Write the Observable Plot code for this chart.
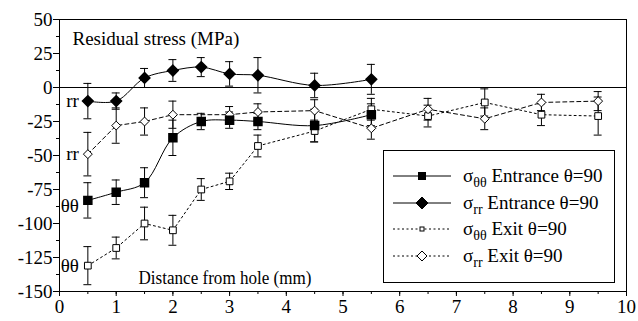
<!DOCTYPE html>
<html><head><meta charset="utf-8">
<script src="https://cdn.jsdelivr.net/npm/d3@7"></script>
<script src="https://cdn.jsdelivr.net/npm/@observablehq/plot@0.6"></script>
</head>
<body style="margin:0;background:#fff">
<div id="wrap" style="position:relative;width:638px;height:321px;font-family:'Liberation Serif'"></div>
<script>
const xEntr = [0.5, 1, 1.5, 2, 2.5, 3, 3.5, 4.5, 5.5];
const sttEntr = [-83, -77, -70, -37, -25, -24, -25, -28, -20];
const sttEntrErr = [13, 9, 11, 13, 6, 6, 6, 12, 8];
const srrEntr = [-10, -10, 7, 12.5, 15, 10, 9, 1.5, 6];
const srrEntrErr = [13, 6, 7, 8, 7, 9, 13, 9, 11];
const xSttExit = [0.5, 1, 1.5, 2, 2.5, 3, 3.5, 4.5, 5.5, 6.5, 7.5, 8.5, 9.5];
const sttExit = [-131, -118, -100, -105, -75, -69, -43, -32, -16, -21, -11, -20, -21];
const sttExitErr = [14, 8, 12, 11, 8, 6, 8, 8, 8, 8, 10, 8, 14];
const xSrrExit = [0.5, 1, 1.5, 2, 3, 3.5, 4.5, 5.5, 6.5, 7.5, 8.5, 9.5];
const srrExit = [-49, -28, -25, -20, -20, -18, -17, -30, -16, -23, -11, -10];
const srrExitErr = [16, 13, 10, 10, 6, 6, 8, 8, 8, 8, 6, 7];
const xTicks = [0,1,2,3,4,5,6,7,8,9,10];
const yTicks = [-150,-125,-100,-75,-50,-25,0,25,50];
const labels = [
  {x: 0.5, y: -10, t: "rr"}, {x: 0.5, y: -49, t: "rr"},
  {x: 0.5, y: -87, t: "θθ"}, {x: 0.5, y: -131, t: "θθ"}
];

const FONT = "'Liberation Serif'";
const mk = (xs, ys, es) => xs.map((x, i) => ({x, y: ys[i], lo: ys[i] - es[i], hi: ys[i] + es[i]}));
const sets = [mk(xEntr, sttEntr, sttEntrErr), mk(xEntr, srrEntr, srrEntrErr), mk(xSttExit, sttExit, sttExitErr), mk(xSrrExit, srrExit, srrExitErr)];

function errMarks(d) {
  return [
    Plot.ruleX(d, {x: "x", y1: "lo", y2: "hi", stroke: "#000", strokeWidth: 1}),
    Plot.ruleY(d, {y: "lo", x1: p => p.x - 0.07, x2: p => p.x + 0.07, stroke: "#000"}),
    Plot.ruleY(d, {y: "hi", x1: p => p.x - 0.07, x2: p => p.x + 0.07, stroke: "#000"})
  ];
}
const minorX = d3.range(0, 10.01, 0.5);
const minorY = d3.range(-150, 50.01, 12.5);

const chart = Plot.plot({
  width: 638, height: 321,
  marginLeft: 59, marginRight: 12, marginTop: 19, marginBottom: 30,
  style: {fontFamily: FONT, fontSize: "18px", background: "#fff", color: "#000"},
  x: {domain: [0, 10], label: null},
  y: {domain: [-150, 50], label: null},
  marks: [
    Plot.frame({stroke: "#000"}),
    Plot.ruleY([0], {stroke: "#000", strokeWidth: 1.2}),
    Plot.axisX({ticks: minorX, tickSize: 3, text: null, label: null}),
    Plot.axisX({ticks: xTicks, tickSize: 5, tickPadding: 3, tickFormat: d => String(d), fontSize: 19, label: null}),
    Plot.axisY({ticks: minorY, tickSize: 3, text: null, label: null}),
    Plot.axisY({ticks: yTicks, tickSize: 6, tickPadding: 1, tickFormat: d => String(d), fontSize: 19, label: null}),
    ...sets.flatMap(errMarks),
    Plot.line(sets[0], {x: "x", y: "y", curve: "catmull-rom", stroke: "#000", strokeWidth: 1}),
    Plot.line(sets[1], {x: "x", y: "y", curve: "catmull-rom", stroke: "#000", strokeWidth: 1}),
    Plot.line(sets[2], {x: "x", y: "y", stroke: "#000", strokeWidth: 1, strokeDasharray: "2,3"}),
    Plot.line(sets[3], {x: "x", y: "y", stroke: "#000", strokeWidth: 1, strokeDasharray: "4,3"}),
    Plot.dot(sets[2], {x: "x", y: "y", symbol: "square", r: 3.8, fill: "#fff", stroke: "#000", strokeWidth: 1}),
    Plot.dot(sets[3], {x: "x", y: "y", symbol: "diamond2", r: 4, fill: "#fff", stroke: "#000", strokeWidth: 1}),
    Plot.dot(sets[0], {x: "x", y: "y", symbol: "square", r: 4.5, fill: "#000", stroke: "#000"}),
    Plot.dot(sets[1], {x: "x", y: "y", symbol: "diamond2", r: 4.8, fill: "#000", stroke: "#000"}),
    Plot.text(labels, {x: "x", y: "y", text: "t", dx: -9, textAnchor: "end", fontSize: 19}),
    Plot.text(["Residual stress (MPa)"], {frameAnchor: "top-left", dx: 13, dy: 12, fontSize: 19}),
    Plot.text(["Distance from hole (mm)"], {frameAnchor: "bottom-left", dx: 79, dy: -8, fontSize: 18})
  ]
});
chart.querySelectorAll("text, g").forEach(t => { t.setAttribute("font-family", "Liberation Serif"); t.style.fontFamily = "'Liberation Serif'"; });
chart.querySelectorAll("text").forEach(t => {
  if (t.textContent === "Distance from hole (mm)") { t.setAttribute("textLength", "173"); t.setAttribute("lengthAdjust", "spacingAndGlyphs"); }
});
const wrap = document.getElementById("wrap");
wrap.appendChild(chart);

const legendItems = [
  {name: "θθ", rest: " Entrance θ=90", dash: null, sym: "sq", fill: "#000", s: 7},
  {name: "rr", rest: " Entrance θ=90", dash: null, sym: "di", fill: "#000", s: 6},
  {name: "θθ", rest: " Exit θ=90", dash: "2,2.5", sym: "sq", fill: "#fff", s: 4},
  {name: "rr", rest: " Exit θ=90", dash: "2,2.5", sym: "di", fill: "#fff", s: 5}
];
const lg = document.createElement("div");
lg.setAttribute("style", "position:absolute;left:383px;top:150px;width:232px;height:133px;border:1px solid #000;background:#fff;box-sizing:border-box;font-family:'Liberation Serif'");
const tops = [12, 39, 65, 92];
legendItems.forEach((it, i) => {
  const row = document.createElement("div");
  row.setAttribute("style", `position:absolute;left:0;top:${tops[i]}px;height:26px;display:flex;align-items:center;font-size:19px;color:#000;white-space:nowrap;font-family:'Liberation Serif'`);
  const s = it.s;
  const symbol = it.sym === "sq"
    ? `<rect x="${29 - s/2}" y="${13 - s/2}" width="${s}" height="${s}" fill="${it.fill}" stroke="#000"/>`
    : `<path d="M29,${13 - s} L${29 + s},13 L29,${13 + s} L${29 - s},13Z" fill="${it.fill}" stroke="#000"/>`;
  row.innerHTML = `<svg width="58" height="26" style="margin-left:9px;margin-right:12px"><line x1="0" x2="58" y1="13" y2="13" stroke="#000" stroke-width="1" ${it.dash ? `stroke-dasharray="${it.dash}"` : ""}/>${symbol}</svg><span>σ<sub style="font-size:14px;vertical-align:-5px;line-height:0">${it.name}</sub>${it.rest}</span>`;
  lg.appendChild(row);
});
wrap.appendChild(lg);
</script></body></html>
